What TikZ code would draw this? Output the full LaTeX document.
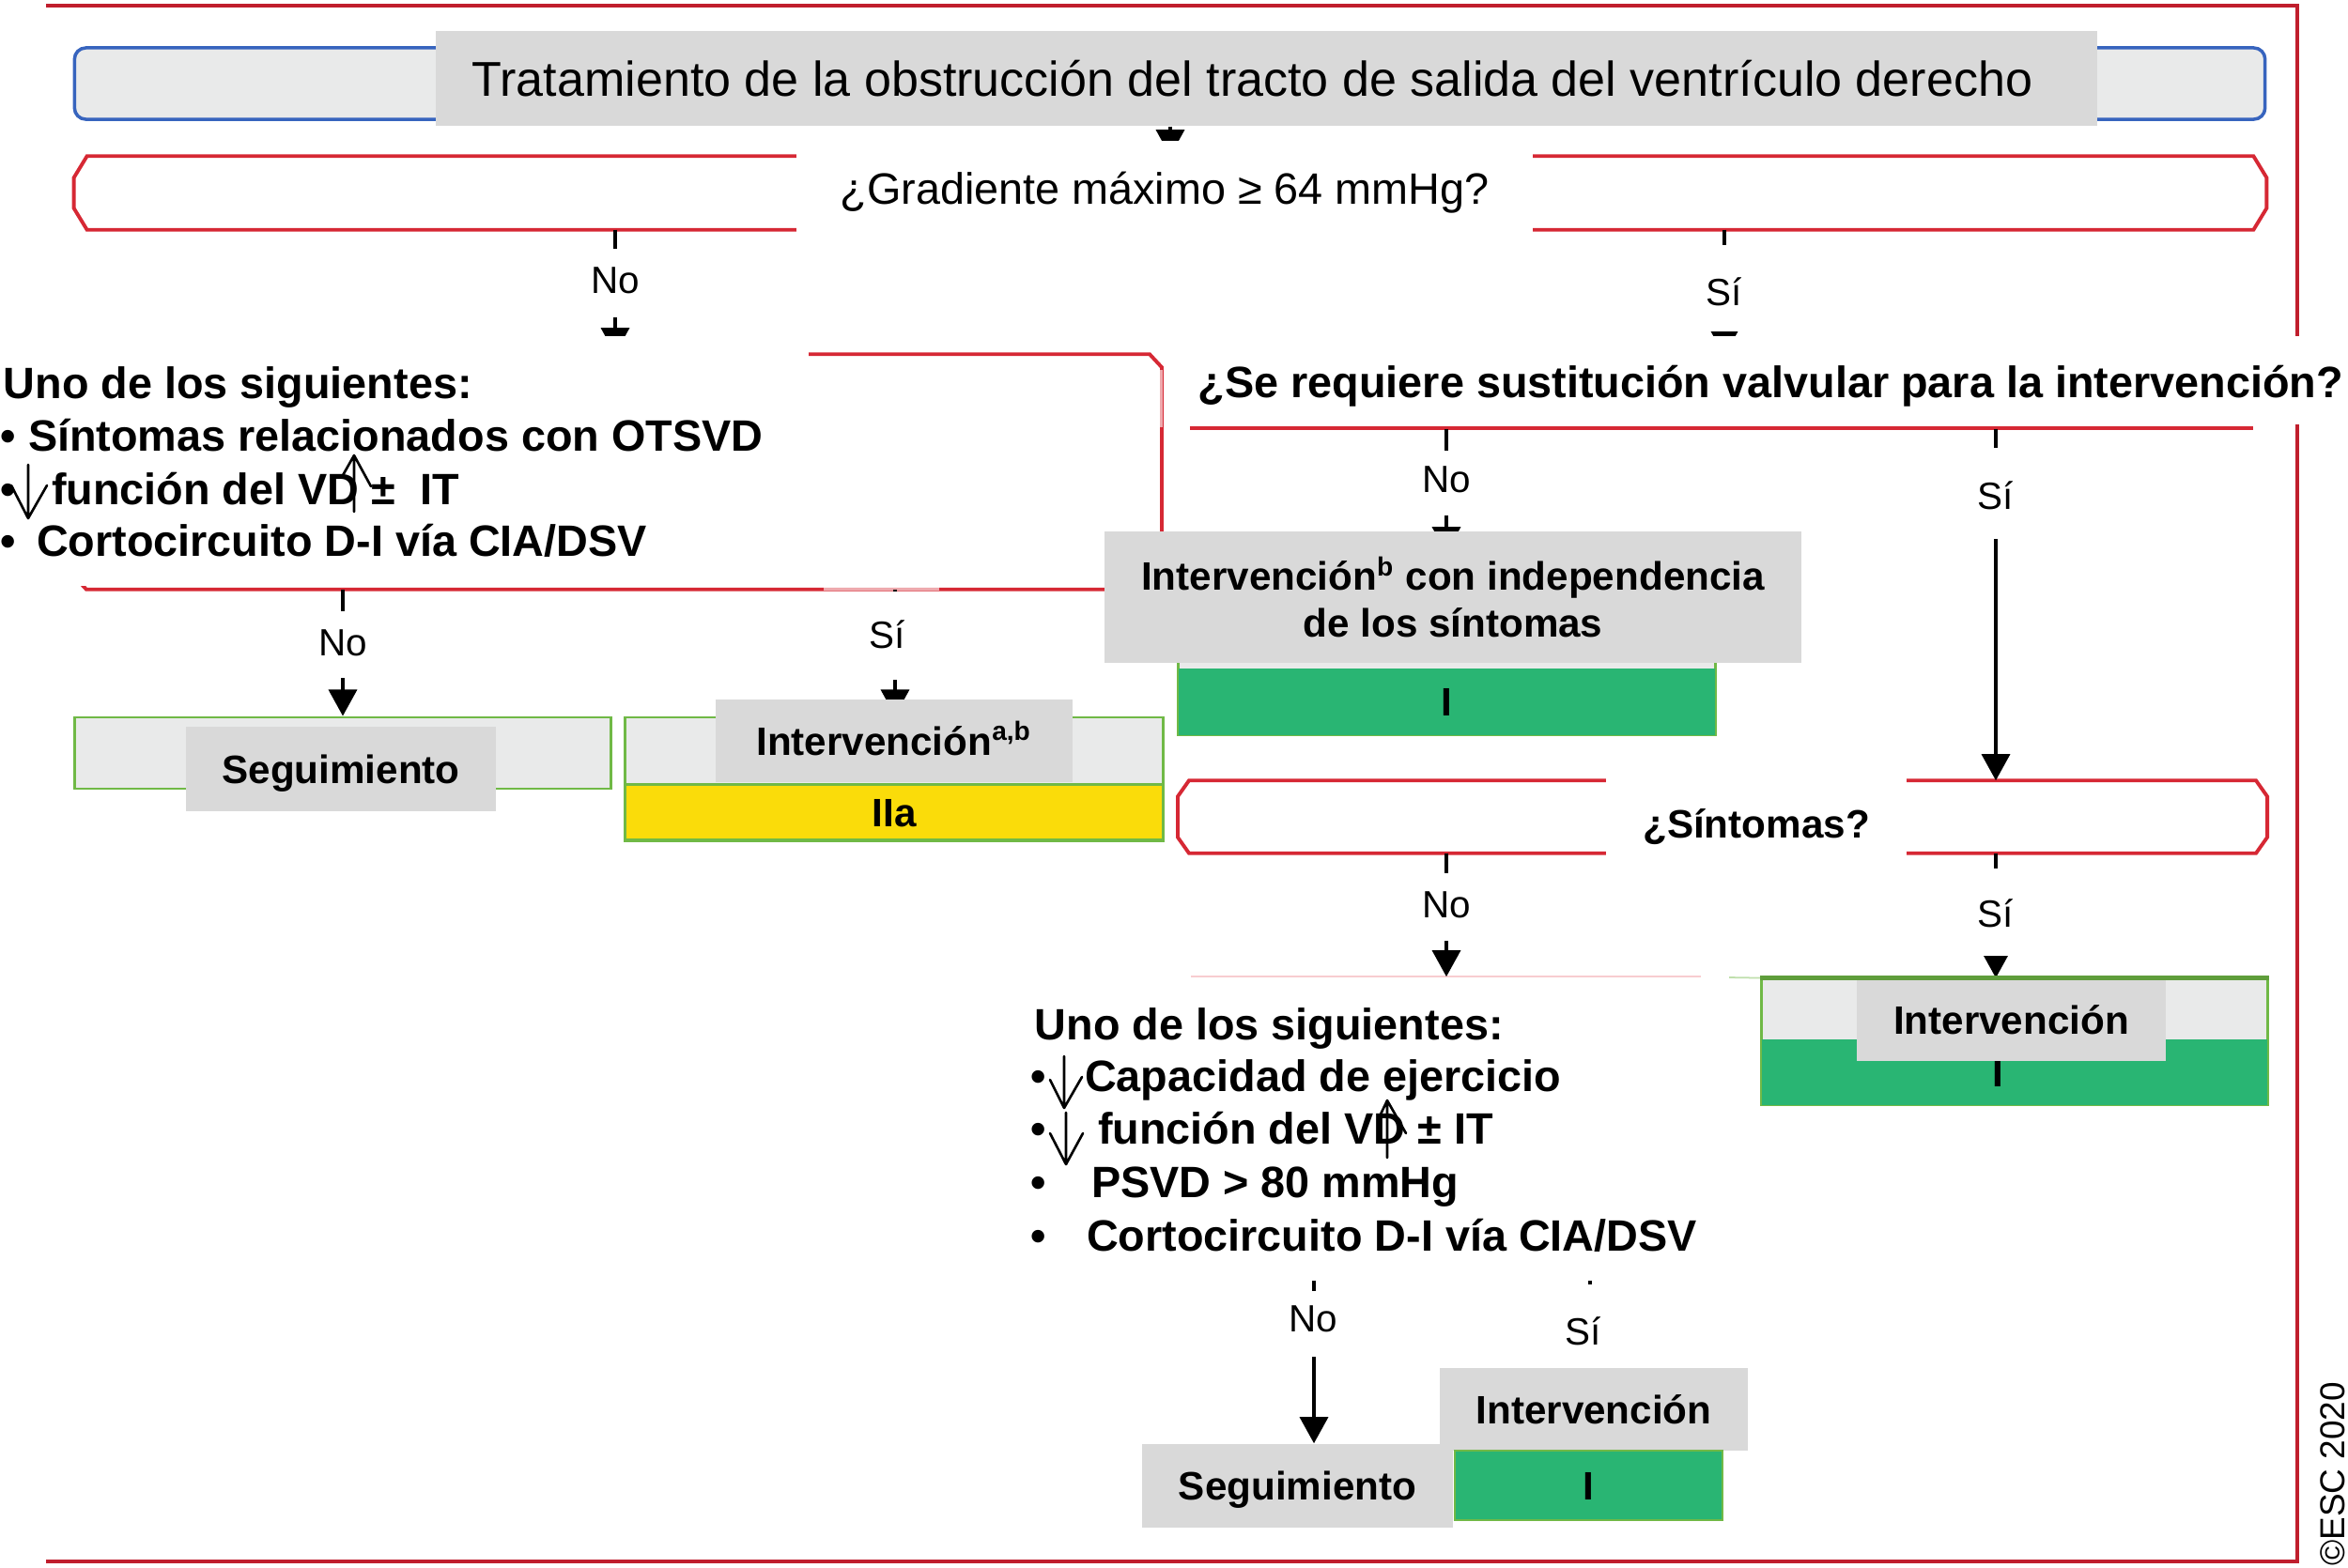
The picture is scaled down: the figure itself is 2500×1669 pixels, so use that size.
\documentclass[tikz,border=0pt]{standalone}
\usepackage{fontspec}
\setmainfont{Liberation Sans}
\usetikzlibrary{arrows.meta}
\definecolor{redL}{RGB}{214,40,52}
\definecolor{redF}{RGB}{192,30,45}
\definecolor{paleR}{RGB}{248,205,208}
\definecolor{blueL}{RGB}{55,100,190}
\definecolor{grayL}{RGB}{233,234,234}
\definecolor{grayM}{RGB}{217,217,217}
\definecolor{greenF}{RGB}{41,181,115}
\definecolor{greenL}{RGB}{112,185,70}
\definecolor{yel}{RGB}{250,220,10}
\pgfdeclarelayer{bg}
\pgfsetlayers{bg,main}
\newcommand\octbox[3]{%
  \draw[redbox] ([xshift=#2]#1.north west) -- ([xshift=-#2]#1.north east)
    -- ([yshift=-#3]#1.north east) -- ([yshift=#3]#1.south east)
    -- ([xshift=-#2]#1.south east) -- ([xshift=#2]#1.south west)
    -- ([yshift=#3]#1.south west) -- ([yshift=-#3]#1.north west) -- cycle;}
\begin{document}
\begin{tikzpicture}[x=0.01cm,y=-0.01cm,
  conn/.style={line width=1.1pt,-{Triangle[length=8pt,width=8.5pt]}},
  lbl/.style={anchor=base,fill=white,inner ysep=0pt,inner xsep=0.12cm,font=\fontsize{11.5}{13}\selectfont},
  redbox/.style={draw=redL,line width=1.1pt},
  ghost/.style={inner sep=0pt},
  graybox/.style={fill=grayM,inner sep=0pt,font=\bfseries\fontsize{12}{14.2}\selectfont},
  capc/.style={text height=0.3cm,text depth=0pt},
  gbox/.style={draw=greenL,line width=0.8pt,fill=grayL,inner sep=0pt},
  cls/.style={inner sep=0pt,font=\bfseries\fontsize{12}{14}\selectfont,text height=0.3cm,text depth=0pt},
  tline/.style={anchor=base west,inner sep=0pt,font=\bfseries\fontsize{13.3}{16}\selectfont},
  thinarr/.style={line width=0.75pt,line cap=round,line join=round}
]
\useasboundingbox (0,0) rectangle (2500,1669);

% ---------- invisible frames of outlined boxes ----------
\node[ghost,minimum width=23.32cm,minimum height=0.77cm] (gradbox) at (1246,205.5) {};
\node[ghost,minimum width=11.56cm,minimum height=2.49cm] (blkLbox) at (658,502.5) {};
\node[ghost,minimum width=11.30cm,minimum height=0pt] (reqline) at (1833,456) {};
\node[ghost,minimum width=11.58cm,minimum height=0.76cm] (symbox) at (1834,870) {};
\node[ghost,minimum width=5.41cm,minimum height=3.22cm] (blk2box) at (1539.5,1202) {};

% ---------- title ----------
\node[draw=blueL,line width=1pt,fill=grayL,rounded corners=0.12cm,minimum width=23.31cm,minimum height=0.76cm,inner sep=0pt] (titlebg) at (1245.5,89) {};
\node[fill=grayM,minimum width=17.67cm,minimum height=1.01cm,inner sep=0pt,text height=0.37cm,text depth=0pt,font=\fontsize{14.8}{17}\selectfont] (title) at (1348.5,83.5) {Tratamiento de la obstrucción del tracto de salida del ventrículo derecho\rule{0.30cm}{0pt}};

% ---------- first question ----------
\node[anchor=base,fill=white,inner ysep=0pt,minimum width=7.84cm,text height=0.67cm,text depth=0.33cm,font=\fontsize{13.3}{16}\selectfont] (gradQ) at (1240,217) {¿Gradiente máximo ≥ 64 mmHg?};

% ---------- left criteria block ----------
\node[fill=white,inner sep=0pt,minimum width=8.61cm,minimum height=2.66cm] (blkL) at (430.5,491) {};
\node[tline] (blkL1) at (3,424) {Uno de los siguientes:};
\node[tline] (blkL2) at (0,480) {• Síntomas relacionados con OTSVD};
\node[tline] (blkL3) at (0,537) {•\hspace{0.38cm}función del VD ±\ \ IT};
\node[tline] (blkL4) at (0,592) {•\hspace{0.22cm}Cortocircuito D-I vía CIA/DSV};
\draw[thinarr] (30,495) -- (30,552) (12,517) -- (30,552) -- (50,517);
\draw[thinarr] (377,545) -- (377,485) (364,508) -- (377,485) -- (395,518);

% ---------- valve replacement question ----------
\node[anchor=base west,fill=white,inner xsep=0.35cm,inner ysep=0pt,text height=0.65cm,text depth=0.29cm,font=\bfseries\fontsize{13.3}{16}\selectfont] (req) at (1240,423) {¿Se requiere sustitución valvular para la intervención?};

% ---------- left outcome boxes ----------
\node[gbox,minimum width=5.70cm,minimum height=0.76cm] (seg1) at (365,802) {};
\node[graybox,capc,minimum width=3.30cm,minimum height=0.90cm] (segL) at (363,819) {Seguimiento};
\node[gbox,minimum width=5.72cm,minimum height=1.32cm] (intab) at (952,830) {};
\node[cls,draw=greenL,line width=0.8pt,fill=yel,minimum width=5.72cm,minimum height=0.59cm] (iia) at (952,865) {IIa};
\node[graybox,capc,minimum width=3.80cm,minimum height=0.88cm] (intabL) at (952,789) {Intervención\textsuperscript{a,b}};

% ---------- intervention regardless of symptoms ----------
\node[gbox,minimum width=5.71cm,minimum height=0.83cm] (clsIbox) at (1540.5,741.5) {};
\node[cls,fill=greenF,minimum width=5.71cm,minimum height=0.71cm] (clsI) at (1540.5,747.5) {I};
\node[graybox,align=center,minimum width=7.42cm,minimum height=1.40cm] (intb) at (1547,636) {Intervención\textsuperscript{b} con independencia\\de los síntomas};

% ---------- symptoms question ----------
\node[anchor=base,fill=white,inner ysep=0pt,minimum width=3.19cm,text height=0.66cm,text depth=0.24cm,font=\bfseries\fontsize{12}{14}\selectfont] (symQ) at (1870,892) {¿Síntomas?};

% ---------- right intervention ----------
\node[gbox,minimum width=5.38cm,minimum height=1.34cm] (intR) at (2145,1110) {};
\node[inner sep=0pt,fill=greenF,minimum width=5.38cm,minimum height=0.70cm] (intRcls) at (2145,1142) {};
\node[cls] (intRI) at (2127,1142) {I};
\node[graybox,capc,minimum width=3.29cm,minimum height=0.88cm] (intRL) at (2141.5,1086) {Intervención};

% ---------- second criteria block ----------
\node[tline] (b2l1) at (1101,1107) {Uno de los siguientes:};
\node[tline] (b2l2) at (1097,1162) {•\hspace{0.41cm}Capacidad de ejercicio};
\node[tline] (b2l3) at (1097,1218) {•\hspace{0.55cm}función del VD ± IT};
\node[tline] (b2l4) at (1097,1275) {•\hspace{0.48cm}PSVD > 80 mmHg};
\node[tline] (b2l5) at (1097,1332) {•\hspace{0.43cm}Cortocircuito D-I vía CIA/DSV};
\draw[thinarr] (1133,1125) -- (1133,1180) (1118,1150) -- (1133,1180) -- (1152,1147);
\draw[thinarr] (1135,1185) -- (1135,1240) (1118,1207) -- (1135,1240) -- (1153,1207);
\draw[thinarr] (1477,1233) -- (1477,1172) (1467,1193) -- (1477,1172) -- (1497,1207);

% ---------- bottom outcome boxes ----------
\node[graybox,capc,minimum width=3.28cm,minimum height=0.88cm] (intB) at (1697,1501) {Intervención};
\node[cls,fill=greenF,draw=greenL,line width=0.6pt,minimum width=2.85cm,minimum height=0.74cm] (clsB) at (1691.5,1582) {I};
\node[graybox,capc,minimum width=3.31cm,minimum height=0.89cm] (segB) at (1381.5,1582.5) {Seguimiento};

% ---------- copyright ----------
\node[rotate=90,inner sep=0pt,font=\fontsize{10.5}{12}\selectfont] (copy) at (2484,1570) {©ESC 2020};

% ---------- connector labels ----------
\node[lbl,text height=0.47cm,text depth=0.26cm] (l1) at (655,312) {No};
\node[lbl,text height=0.64cm,text depth=0.28cm] (l2) at (1836,325) {Sí};
\node[lbl,text height=0.47cm,text depth=0.24cm] (l3) at (365,698) {No};
\node[lbl,text height=0.60cm,text depth=0.34cm] (l4) at (945,690) {Sí};
\node[lbl,text height=0.44cm,text depth=0.25cm] (l5) at (1540,524) {No};
\node[lbl,text height=0.65cm,text depth=0.32cm] (l6) at (2125,542) {Sí};
\node[lbl,text height=0.47cm,text depth=0.25cm] (l7) at (1540,977) {No};
\node[lbl,text height=0.62cm,text depth=0.31cm] (l8) at (2125,987) {Sí};
\node[lbl,text height=0.43cm,text depth=0.27cm] (l9) at (1398,1418) {No};
\node[lbl,text height=0.64cm,text depth=0.25cm] (l10) at (1686,1432) {Sí};

% ---------- background layer: frame, outlines, connectors ----------
\begin{pgfonlayer}{bg}
  \draw[redF,line width=0.9pt] (49,6) -- (2446,6) -- (2446,1663) -- (49,1663);
  \octbox{gradbox}{0.14cm}{0.23cm}
  \octbox{blkLbox}{0.13cm}{0.14cm}
  \octbox{symbox}{0.12cm}{0.17cm}
  \draw[redbox] (reqline.west) -- (reqline.east);
  \draw[white,opacity=0.6,line width=1.4pt] (1236,394) -- (1236,455) (877,627) -- (1000,627);
  \draw[paleR,line width=0.5pt] (blk2box.north west) -- (blk2box.north east);
  \draw[greenL!45,line width=0.5pt] (1841,1041) -- (intR.north west);
  % connectors
  \draw[conn] (title.south -| 1246,0) -- (gradbox.north -| 1246,0);
  \draw[conn] (gradbox.south -| 655,0) -- (blkLbox.north -| 655,0);
  \draw[conn,shorten >=-0.22cm] (gradbox.south -| 1836,0) -- (req.north -| 1836,0);
  \draw[conn] (blkLbox.south -| 365,0) -- (seg1.north -| 365,0);
  \draw[conn] (blkLbox.south -| 953,0) -- (intab.north -| 953,0);
  \draw[conn,shorten >=-0.24cm] (reqline.south -| 1540,0) -- (intb.north -| 1540,0);
  \draw[conn] (reqline.south -| 2125,0) -- (symbox.north -| 2125,0);
  \draw[conn] (symbox.south -| 1540,0) -- (blk2box.north -| 1540,0);
  \draw[conn] (symbox.south -| 2125,0) -- (intR.north -| 2125,0);
  \draw[conn] (blk2box.south -| 1399,0) -- (segB.north -| 1399,0);
  \draw[conn] (blk2box.south -| 1693,0) -- (intB.north -| 1693,0);
\end{pgfonlayer}
\draw[greenL!85!black,line width=1.4pt] (intR.north west) -- (intR.north east);
\end{tikzpicture}
\end{document}
